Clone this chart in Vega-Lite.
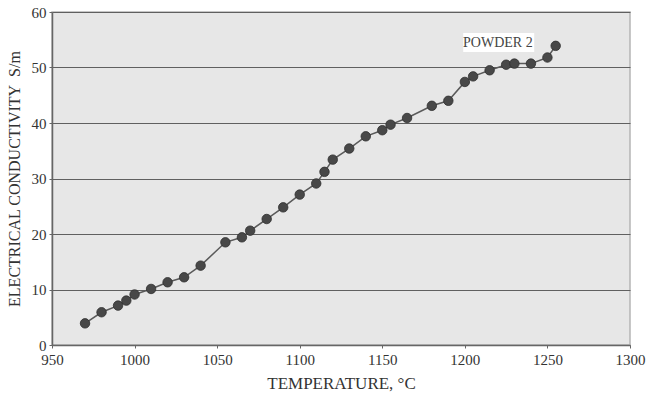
{
  "$schema": "https://vega.github.io/schema/vega-lite/v6.json",
  "width": 578,
  "height": 333,
  "autosize": "none",
  "padding": {"left": 52, "top": 12, "right": 31, "bottom": 50},
  "background": "white",
  "config": {
    "view": {"fill": "#e7e7e7", "stroke": "#b5b5b5", "strokeWidth": 1.5},
    "font": "Liberation Serif"
  },
  "datasets": {
    "pts": [
      {"T": 970, "C": 3.9}, {"T": 980, "C": 5.9}, {"T": 990, "C": 7.1}, {"T": 995, "C": 8.0},
      {"T": 1000, "C": 9.1}, {"T": 1010, "C": 10.1}, {"T": 1020, "C": 11.3}, {"T": 1030, "C": 12.2},
      {"T": 1040, "C": 14.3}, {"T": 1055, "C": 18.5}, {"T": 1065, "C": 19.4}, {"T": 1070, "C": 20.6},
      {"T": 1080, "C": 22.7}, {"T": 1090, "C": 24.8}, {"T": 1100, "C": 27.1}, {"T": 1110, "C": 29.1},
      {"T": 1115, "C": 31.2}, {"T": 1120, "C": 33.4}, {"T": 1130, "C": 35.4}, {"T": 1140, "C": 37.6},
      {"T": 1150, "C": 38.7}, {"T": 1155, "C": 39.7}, {"T": 1165, "C": 40.9}, {"T": 1180, "C": 43.1},
      {"T": 1190, "C": 44.0}, {"T": 1200, "C": 47.4}, {"T": 1205, "C": 48.4}, {"T": 1215, "C": 49.5},
      {"T": 1225, "C": 50.5}, {"T": 1230, "C": 50.7}, {"T": 1240, "C": 50.7}, {"T": 1250, "C": 51.8},
      {"T": 1255, "C": 53.9}
    ],
    "label": [
      {"T": 1220, "C": 54.5, "x1": 1199, "x2": 1242, "y1": 52.8, "y2": 56.2, "text": "POWDER 2"}
    ]
  },
  "layer": [
    {
      "data": {"name": "pts"},
      "mark": {"type": "line", "color": "#5a5a5a", "strokeWidth": 1.5},
      "encoding": {
        "x": {
          "field": "T", "type": "quantitative",
          "scale": {"domain": [950, 1300], "nice": false, "zero": false},
          "axis": {
            "title": "TEMPERATURE, °C", "values": [950, 1000, 1050, 1100, 1150, 1200, 1250, 1300], "format": "d",
            "grid": false, "domainColor": "#666", "domainWidth": 1.5, "tickColor": "#666", "tickSize": 3,
            "labelFont": "Liberation Serif", "labelFontSize": 15, "labelColor": "#333", "labelPadding": 4,
            "titleFont": "Liberation Serif", "titleFontSize": 17, "titleFontWeight": "normal", "titleColor": "#333", "titlePadding": 8,
            "labelFlush": false
          }
        },
        "y": {
          "field": "C", "type": "quantitative",
          "scale": {"domain": [0, 60], "nice": false},
          "axis": {
            "title": "ELECTRICAL CONDUCTIVITY\u00a0\u00a0S/m", "values": [0, 10, 20, 30, 40, 50, 60],
            "grid": true, "gridColor": "#606060", "gridWidth": 1.2,
            "domainColor": "#666", "domainWidth": 1.5, "tickColor": "#666", "tickSize": 3,
            "labelFont": "Liberation Serif", "labelFontSize": 15, "labelColor": "#333", "labelPadding": 3,
            "titleFont": "Liberation Serif", "titleFontSize": 16, "titleFontWeight": "normal", "titleColor": "#333", "titlePadding": 9
          }
        }
      }
    },
    {
      "data": {"name": "pts"},
      "mark": {"type": "point", "filled": true, "size": 90, "color": "#484848", "opacity": 1, "stroke": "#2e2e2e", "strokeWidth": 0.8},
      "encoding": {
        "x": {"field": "T", "type": "quantitative"},
        "y": {"field": "C", "type": "quantitative"}
      }
    },
    {
      "data": {"name": "label"},
      "mark": {"type": "rect", "color": "white"},
      "encoding": {
        "x": {"field": "x1", "type": "quantitative"},
        "x2": {"field": "x2"},
        "y": {"field": "y1", "type": "quantitative"},
        "y2": {"field": "y2"}
      }
    },
    {
      "data": {"name": "label"},
      "mark": {"type": "text", "font": "Liberation Serif", "fontSize": 14, "color": "#444", "align": "center", "baseline": "middle"},
      "encoding": {
        "x": {"field": "T", "type": "quantitative"},
        "y": {"field": "C", "type": "quantitative"},
        "text": {"field": "text"}
      }
    }
  ]
}
